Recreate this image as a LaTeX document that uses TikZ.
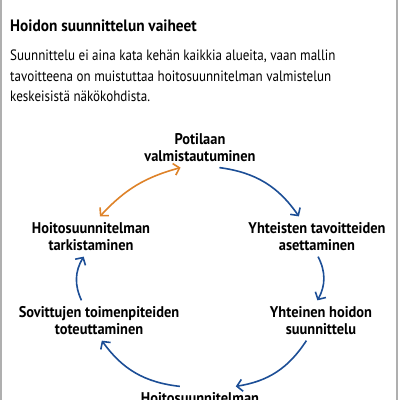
\documentclass[tikz,border=0pt]{standalone}
\usepackage{fontspec}
\setmainfont{PT Sans}[FakeStretch=0.87, BoldFeatures={FakeStretch=0.93}]
\usetikzlibrary{arrows.meta}
\definecolor{kiertosin}{RGB}{28,78,150}
\definecolor{kierto_or}{RGB}{222,130,40}
\definecolor{reunaharmaa}{RGB}{175,175,175}
\tikzset{
  vaihe/.style={font=\bfseries\fontsize{15.5}{17}\selectfont, align=center, inner sep=2pt, outer sep=4pt},
  kierto/.style={kiertosin, line width=1.6pt, -{Straight Barb[length=5.5pt,width=12pt]}, bend left=24},
}
\begin{document}
\begin{tikzpicture}[x=1pt,y=1pt]
  \useasboundingbox (0,0) rectangle (400,400);
  \draw[reunaharmaa, line width=2pt] (1,0) -- (1,400) (397,0) -- (397,400);
  % otsikko ja ingressi
  \node[anchor=base west, inner sep=0, font=\bfseries\fontsize{16.5}{18}\selectfont] (otsikko) at (10,368) {Hoidon suunnittelun vaiheet};
  \node[anchor=north west, inner sep=0, align=left, font=\fontsize{15}{20.5}\selectfont] (ingressi) at (10,350)
    {Suunnittelu ei aina kata kehän kaikkia alueita, vaan mallin\\
     tavoitteena on muistuttaa hoitosuunnitelman valmistelun\\
     keskeisistä näkökohdista.};
  % vaiheet
  \node[vaihe] (pot)  at (200,252.5) {Potilaan\\valmistautuminen};
  \node[vaihe] (yht)  at (317,163.5) {Yhteisten tavoitteiden\\asettaminen};
  \node[vaihe] (yhd)  at (321,79.5)  {Yhteinen hoidon\\suunnittelu};
  \node[vaihe] (laat) at (200,2)     {Hoitosuunnitelman};
  \node[vaihe] (sov)  at (99,79.5)   {Sovittujen toimenpiteiden\\toteuttaminen};
  \node[vaihe] (tark) at (91,163.5)  {Hoitosuunnitelman\\tarkistaminen};
  % kehä
  \draw[kierto] (pot.-46) to (yht.132);
  \draw[kierto, bend left=28] (yht.-87) to (yhd.100);
  \draw[kierto] (yhd.-126) to (laat.18);
  \draw[kierto] (laat.150) to (sov.-82);
  \draw[kierto, bend left=28] (sov.131) to (tark.-110);
  \draw[kierto, kierto_or, {Straight Barb[length=5.5pt,width=12pt]}-{Straight Barb[length=5.5pt,width=12pt]}, bend left=16] (tark.66) to (pot.-134);
\end{tikzpicture}
\end{document}
